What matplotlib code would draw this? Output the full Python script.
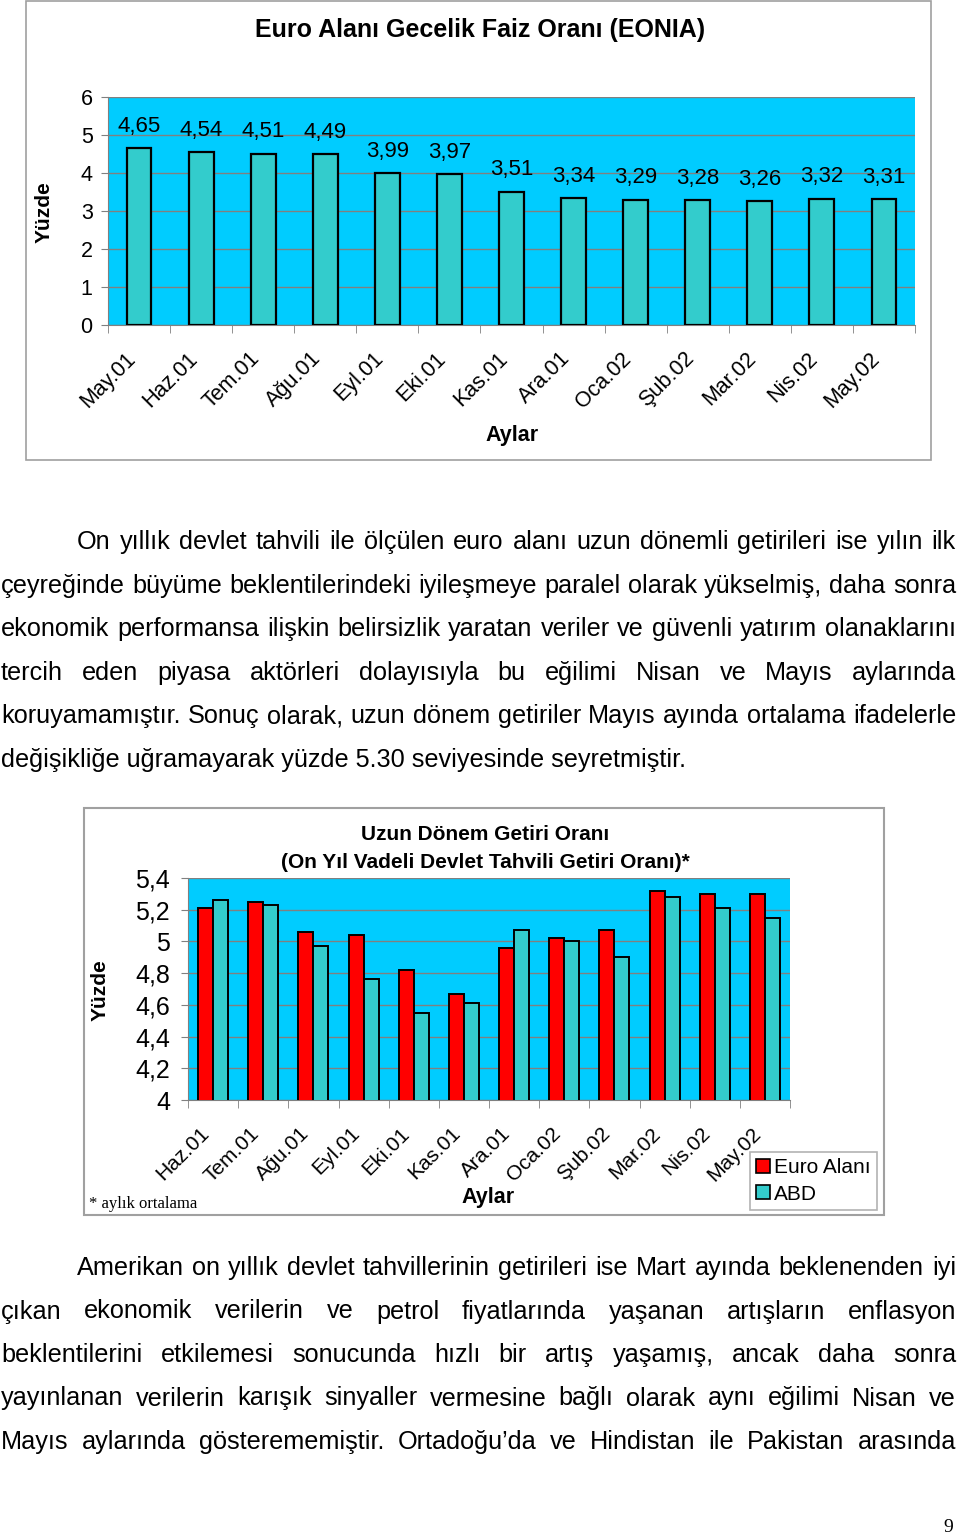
import matplotlib
matplotlib.use("Agg")
import matplotlib.pyplot as plt
from matplotlib.patches import Rectangle, Patch
from matplotlib.transforms import ScaledTranslation
import numpy as np

W, H = 960, 1539
plt.rcParams['font.family'] = ['Liberation Sans', 'DejaVu Sans']

# EONIA, monthly
eonia_months = ["May.01", "Haz.01", "Tem.01", "Ağu.01", "Eyl.01", "Eki.01", "Kas.01",
                "Ara.01", "Oca.02", "Şub.02", "Mar.02", "Nis.02", "May.02"]
eonia_values = [4.65, 4.54, 4.51, 4.49, 3.99, 3.97, 3.51, 3.34, 3.29, 3.28, 3.26, 3.32, 3.31]

# 10-year government bond yields
bond_months = ["Haz.01", "Tem.01", "Ağu.01", "Eyl.01", "Eki.01", "Kas.01", "Ara.01",
               "Oca.02", "Şub.02", "Mar.02", "Nis.02", "May.02"]
euro_yield = [5.21, 5.25, 5.06, 5.04, 4.82, 4.67, 4.96, 5.02, 5.07, 5.32, 5.30, 5.30]
us_yield = [5.26, 5.23, 4.97, 4.76, 4.55, 4.61, 5.07, 5.00, 4.90, 5.28, 5.21, 5.15]

eonia_ticks = [0, 1, 2, 3, 4, 5, 6]
bond_ticks = [4.0, 4.2, 4.4, 4.6, 4.8, 5.0, 5.2, 5.4]

para1 = [
    "On yıllık devlet tahvili ile ölçülen euro alanı uzun dönemli getirileri ise yılın ilk",
    "çeyreğinde büyüme beklentilerindeki iyileşmeye paralel olarak yükselmiş, daha sonra",
    "ekonomik performansa ilişkin belirsizlik yaratan veriler ve güvenli yatırım olanaklarını",
    "tercih eden piyasa aktörleri dolayısıyla bu eğilimi Nisan ve Mayıs aylarında",
    "koruyamamıştır. Sonuç olarak, uzun dönem getiriler Mayıs ayında ortalama ifadelerle",
    "değişikliğe uğramayarak yüzde 5.30 seviyesinde seyretmiştir.",
]
para2 = [
    "Amerikan on yıllık devlet tahvillerinin getirileri ise Mart ayında beklenenden iyi",
    "çıkan ekonomik verilerin ve petrol fiyatlarında yaşanan artışların enflasyon",
    "beklentilerini etkilemesi sonucunda hızlı bir artış yaşamış, ancak daha sonra",
    "yayınlanan verilerin karışık sinyaller vermesine bağlı olarak aynı eğilimi Nisan ve",
    "Mayıs aylarında gösterememiştir. Ortadoğu’da ve Hindistan ile Pakistan arasında",
]

CYAN = "#00CCFF"
TEAL = "#33CCCC"
RED = "#FF0000"
GRID = "#808080"


def px_box(l, t, r, b):                                   # pixel box -> figure fraction
    return [l / W, 1 - b / H, (r - l) / W, (b - t) / H]


def fx(x):
    return x / W


def fy(y):
    return 1 - y / H


fig = plt.figure(figsize=(W / 100, H / 100), dpi=100)
fig.patch.set_facecolor("white")

# chart frames
fig.patches.append(Rectangle((fx(26), fy(460)), 905 / W, 459 / H, transform=fig.transFigure,
                             fill=False, edgecolor="#A0A0A0", lw=1.2))
fig.patches.append(Rectangle((fx(84), fy(1215)), 800 / W, 407 / H, transform=fig.transFigure,
                             fill=False, edgecolor="#A0A0A0", lw=1.5))


def style_axes(ax, n):
    ax.set_facecolor(CYAN)
    for s in ["top", "right"]:
        ax.spines[s].set_visible(False)
    ax.spines["left"].set_color(GRID)
    ax.spines["bottom"].set_color(GRID)
    ax.yaxis.grid(True, color=GRID, lw=1.0)
    ax.set_axisbelow(True)
    ax.set_xlim(-0.5, n - 0.5)
    ax.set_xticks(np.arange(n))
    ax.set_xticks(np.arange(n + 1) - 0.5, minor=True)
    ax.tick_params(axis="x", which="major", length=0)
    ax.tick_params(axis="x", which="minor", length=6, color=GRID)
    ax.tick_params(axis="y", length=5, color=GRID)


# ---- chart 1: EONIA
ax1 = fig.add_axes(px_box(108, 97, 915, 325))
style_axes(ax1, len(eonia_months))
x1 = np.arange(len(eonia_months))
ax1.bar(x1, eonia_values, width=0.4, color=TEAL, edgecolor="black", lw=1.6, zorder=3)
ax1.set_ylim(0, 6)
ax1.set_yticks(eonia_ticks)
ax1.set_yticklabels([str(t) for t in eonia_ticks], fontsize=15.5)
ax1.tick_params(axis="y", pad=6)
for i, v in enumerate(eonia_values):
    ax1.annotate(f"{v:.2f}".replace(".", ","), (i, v), xytext=(0, 22), textcoords="offset pixels",
                 ha="center", va="center", fontsize=16)
ax1.set_xticklabels(eonia_months, rotation=45, ha="right", va="center",
                    rotation_mode="anchor", fontsize=15.5)
ax1.tick_params(axis="x", which="major", pad=22)
for lab in ax1.get_xticklabels():
    lab.set_transform(lab.get_transform() + ScaledTranslation(-0.07, 0, fig.dpi_scale_trans))

fig.text(fx(480), fy(30), "Euro Alanı Gecelik Faiz Oranı (EONIA)", ha="center", va="center",
         fontsize=18, weight="bold")
fig.text(fx(44), fy(212), "Yüzde", rotation=90, ha="center", va="center", fontsize=15, weight="bold")
fig.text(fx(512), fy(435), "Aylar", ha="center", va="center", fontsize=15.5, weight="bold")

# ---- chart 2: long term yields
ax2 = fig.add_axes(px_box(188, 878, 790, 1100))
style_axes(ax2, len(bond_months))
x2 = np.arange(len(bond_months))
ax2.bar(x2 - 0.15, euro_yield, width=0.3, color=RED, edgecolor="black", lw=1.4, zorder=3)
ax2.bar(x2 + 0.15, us_yield, width=0.3, color=TEAL, edgecolor="black", lw=1.4, zorder=3)
ax2.set_ylim(4, 5.4)
ax2.set_yticks(bond_ticks)
ax2.set_yticklabels([f"{t:g}".replace(".", ",") for t in bond_ticks], fontsize=18)
ax2.tick_params(axis="y", pad=8)
ax2.set_xticklabels(bond_months, rotation=45, ha="right", va="center",
                    rotation_mode="anchor", fontsize=15)
ax2.tick_params(axis="x", which="major", pad=22)
for lab in ax2.get_xticklabels():
    lab.set_transform(lab.get_transform() + ScaledTranslation(-0.07, 0, fig.dpi_scale_trans))

fig.text(fx(485), fy(835), "Uzun Dönem Getiri Oranı", ha="center", va="center",
         fontsize=15, weight="bold")
fig.text(fx(485), fy(862), "(On Yıl Vadeli Devlet Tahvili Getiri Oranı)*", ha="center", va="center",
         fontsize=15, weight="bold")
fig.text(fx(100), fy(990), "Yüzde", rotation=90, ha="center", va="center", fontsize=15, weight="bold")
fig.text(fx(488), fy(1197), "Aylar", ha="center", va="center", fontsize=15.5, weight="bold")
fig.text(fx(89), fy(1204), "* aylık ortalama", ha="left", va="center", fontsize=12,
         family=["Liberation Serif", "DejaVu Serif"])

handles = [Patch(facecolor=RED, edgecolor="black", lw=1.2),
           Patch(facecolor=TEAL, edgecolor="black", lw=1.2)]
leg = fig.legend(handles, ["Euro Alanı", "ABD"], loc="upper left",
                 bbox_to_anchor=(fx(750), fy(1152)), frameon=True, fancybox=False,
                 edgecolor="#A0A0A0", fontsize=15, handlelength=0.65, handleheight=0.65,
                 handletextpad=0.2, borderpad=0.3, labelspacing=0.35, borderaxespad=0)
leg.get_frame().set_linewidth(1.2)

# ---- body text, justified
FS = 18.2
RIGHT = 956
renderer = fig.canvas.get_renderer()


def paragraph(lines, y0, step, indent, last_left):
    for k, line in enumerate(lines):
        y = fy(y0 + k * step + 8)
        left = indent if k == 0 else 1
        if k == len(lines) - 1 and last_left:
            fig.text(fx(left), y, line, fontsize=FS, va="baseline")
            continue
        words = line.split()
        texts = [fig.text(0, y, w, fontsize=FS, va="baseline") for w in words]
        widths = [t.get_window_extent(renderer).width for t in texts]
        gap = (RIGHT - left - sum(widths)) / (len(words) - 1)
        xpos = left
        for t, w in zip(texts, widths):
            t.set_x(fx(xpos))
            xpos += w + gap


paragraph(para1, 541, 43.6, 77, True)
paragraph(para2, 1267, 43.5, 77, False)

fig.text(fx(948), fy(1527), "9", ha="center", va="center", fontsize=14,
         family=["Liberation Serif", "DejaVu Serif"])

fig.savefig("out.png", dpi=100)
